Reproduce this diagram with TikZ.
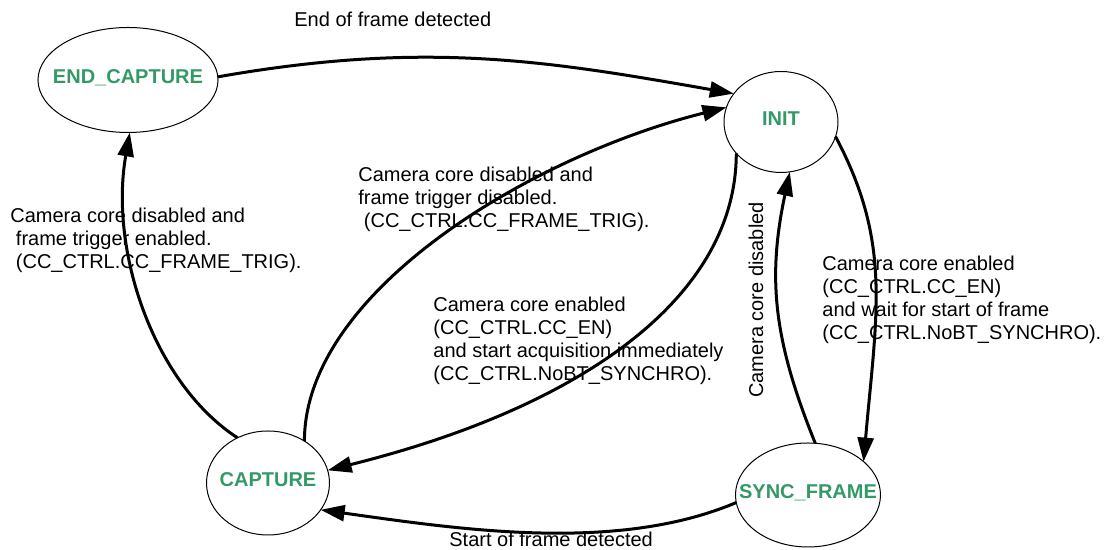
\documentclass[tikz,border=0pt]{standalone}
\usepackage{fontspec}
\setmainfont{Liberation Sans}
\usetikzlibrary{shapes.geometric,arrows.meta}
\definecolor{stategreen}{RGB}{51,153,102}
\newcommand{\statename}[1]{\makebox[0pt]{\raisebox{-1.6pt}[0pt][0pt]{#1}}}

\begin{document}
\begin{tikzpicture}[x=0.5pt,y=0.5pt,
  font=\fontsize{10}{11.5}\selectfont,
  state/.style={ellipse, draw, line width=0.5pt, inner sep=0pt, outer sep=0pt,
    font=\fontsize{10}{11.5}\selectfont\bfseries, text=stategreen},
  trans/.style={line width=1.5pt, -{Triangle[length=12pt,width=8pt]}},
  lbl/.style={anchor=base west, align=left, inner sep=0pt}]

  \useasboundingbox (0,0) rectangle (1105,550);

  %--- States ---
  \node[state, minimum width=90pt, minimum height=52.5pt] (endcap) at (128,470) {\statename{END\_CAPTURE}};
  \node[state, minimum width=57pt, minimum height=50.5pt] (init) at (781,428) {\statename{INIT}};
  \node[state, minimum width=61.5pt, minimum height=52pt] (capture) at (268,67) {\statename{CAPTURE}};
  \node[state, minimum width=72.5pt, minimum height=52pt] (sync) at (808,55) {\statename{SYNC\_FRAME}};

  %--- Transitions ---
  \draw[trans] (endcap.2) to[out=10, in=170, out distance=105pt, in distance=95pt] (init.149);
  \draw[trans] (capture.49) to[out=90, in=194, out distance=75pt, in distance=100pt] (init.165);
  \draw[trans] (init.215) to[out=270, in=14, out distance=70pt, in distance=135pt] (capture.12);
  \draw[trans] (capture.124) to[out=147, in=260, out distance=50pt, in distance=60pt] (endcap.272);
  \draw[trans] (init.-15) to[out=-62, in=85, out distance=60pt, in distance=75pt] (sync.31);
  \draw[trans] (sync.82) to[out=112, in=258, out distance=55pt, in distance=55pt] (init.-80);
  \draw[trans] (sync.186) to[out=203, in=-8, out distance=65pt, in distance=70pt] (capture.-27);

  %--- Labels (anchored at the last line) ---
  \node[lbl] (lblend) at (294,523) {End of frame detected};
  \node[lbl] (lbltrig) at (10,281) {Camera core disabled and\\\ frame trigger enabled.\\\ (CC\_CTRL.CC\_FRAME\_TRIG).};
  \node[lbl] (lbldis) at (358,322) {Camera core disabled and\\frame trigger disabled.\\\ (CC\_CTRL.CC\_FRAME\_TRIG).};
  \node[lbl] (lblimm) at (433,169) {Camera core enabled\\(CC\_CTRL.CC\_EN)\\and start acquisition immediately\\(CC\_CTRL.NoBT\_SYNCHRO).};
  \node[lbl] (lblwait) at (822,210) {Camera core enabled\\(CC\_CTRL.CC\_EN)\\and wait for start of frame\\(CC\_CTRL.NoBT\_SYNCHRO).};
  \node[lbl] (lblstart) at (449,3) {Start of frame detected};
  \node[rotate=90, inner sep=0pt] (lblcore) at (756,250) {Camera core disabled};

\end{tikzpicture}
\end{document}
